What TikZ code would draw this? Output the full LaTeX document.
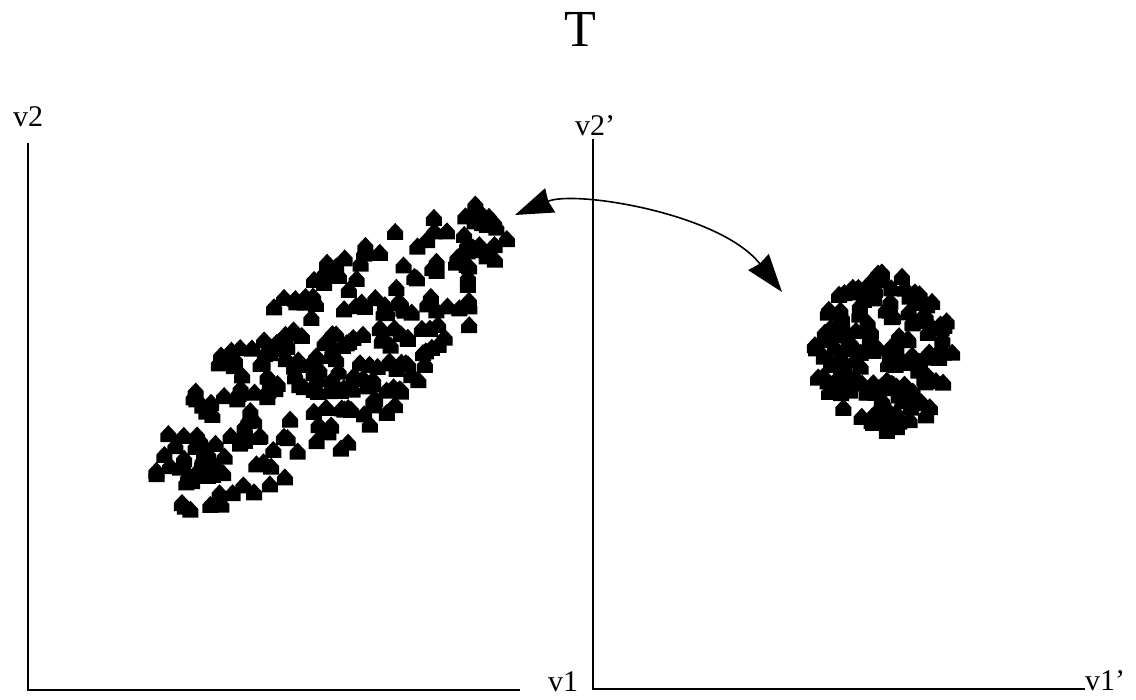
\documentclass[tikz,border=0pt]{standalone}
\usepackage{fontspec}
\setmainfont{Liberation Serif}
\usetikzlibrary{arrows.meta}
\begin{document}
\begin{tikzpicture}[x=1pt,y=-1pt,
  house/.pic={\fill[black] (-8,8) -- (8,8) -- (8,-0.5) -- (0,-9) -- (-8,-0.5) -- cycle;},
  axis/.style={line width=1.4pt,black},
  lbl/.style={font=\fontsize{30}{32}\selectfont,inner sep=0pt},
  curvearrow/.style={line width=1.6pt,{Stealth[length=38pt,width=26pt,inset=2pt]}-{Stealth[length=38pt,width=26pt,inset=2pt]}}]
\useasboundingbox (0,0) rectangle (1136,700);
% title
\node[font=\fontsize{52}{54}\selectfont,inner sep=0pt] (title) at (580,29) {T};
% left axes
\coordinate (lt) at (28,143);
\coordinate (lo) at (28,690);
\coordinate (lr) at (520,690);
\draw[axis] (lt) -- (lo) -- (lr);
\node[lbl] (v2) at (28,117) {v2};
\node[lbl,anchor=base west] (v1) at (548,691) {v1};
% right axes
\coordinate (rt) at (593,139);
\coordinate (ro) at (593,689);
\coordinate (rr) at (1085,689);
\draw[axis] (rt) -- (ro) -- (rr);
\node[lbl] (v2p) at (595,126) {v2'};
\node[lbl,anchor=base west] (v1p) at (1085,690) {v1'};
% left cloud
\pgfmathsetseed{11}
\foreach \i in {1,...,280}{
  \pgfmathsetmacro\r{sqrt(rnd)}
  \pgfmathsetmacro\t{360*rnd}
  \pgfmathsetmacro\u{\r*cos(\t)}
  \pgfmathsetmacro\v{\r*sin(\t)}
  \pgfmathsetmacro\px{330 + 222*\u*cos(40) + 80*\v*sin(40)}
  \pgfmathsetmacro\py{357 - 222*\u*sin(40) + 80*\v*cos(40)}
  \pic at (\px,\py) {house};
}
% right cloud
\foreach \i in {1,...,175}{
  \pgfmathsetmacro\r{sqrt(rnd)}
  \pgfmathsetmacro\t{360*rnd}
  \pgfmathsetmacro\px{884 + 70*\r*cos(\t)}
  \pgfmathsetmacro\py{352 + 80*\r*sin(\t)}
  \pic at (\px,\py) {house};
}
% curved double arrow
\coordinate (ea) at (515,215);
\coordinate (eb) at (782,292);
\draw[curvearrow] (ea) .. controls (575,190) and (720,213) .. (eb);
\end{tikzpicture}
\end{document}
